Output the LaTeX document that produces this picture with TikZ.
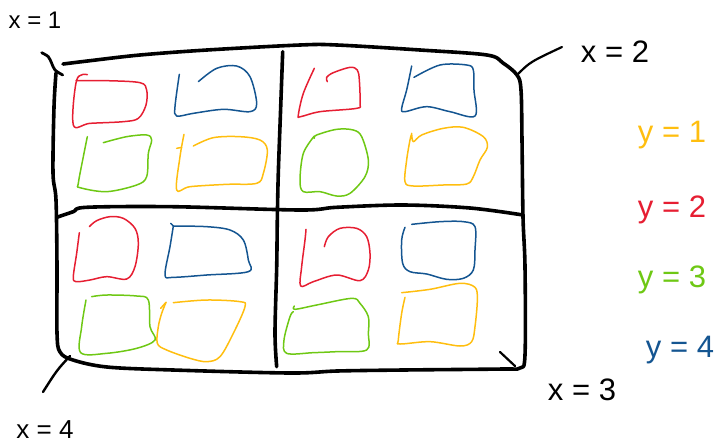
\documentclass[tikz,border=0pt]{standalone}
\usepackage{fontspec}
\setmainfont{Liberation Sans}
\definecolor{pred}{RGB}{230,30,50}
\definecolor{pblue}{RGB}{20,85,145}
\definecolor{pgreen}{RGB}{110,200,20}
\definecolor{pyellow}{RGB}{255,190,15}
\begin{document}
\begin{tikzpicture}[x=1pt,y=-1pt,
  frame/.style={line width=3.6pt, line cap=round, line join=round},
  pen/.style={line width=1.5pt, line cap=round, line join=round},
  lbl/.style={font=\fontsize{31}{33}\selectfont, inner sep=0pt},
  sk/.style={smooth, tension=0.55}]
\useasboundingbox (0,0) rectangle (720,445);
% outer frame
\draw[frame] plot[sk] coordinates {(63,64) (90,60.7) (140,55) (207,50) (300,45) (337,45) (420,50) (487,55) (503,63) (517,75) (521,90) (522,140) (523,217) (525,267) (525,355) (520,368) (503,369) (403,370) (337,371) (290,373) (173,370) (107,367) (73,360) (60,352) (57,333) (57,267) (56,200) (53,173) (54,107) (56,73)};
% dividers
\draw[frame] plot[sk] coordinates {(282.7,51.7) (280.7,106.7) (278.3,173.3) (277.3,220) (276.7,266.7) (275,333) (276.7,366.7)};
\draw[frame] plot[sk] coordinates {(56.7,217.3) (73.3,211.7) (86.7,207.3) (173,206.7) (300,210) (336.7,207.3) (403,205) (470,208) (523,215)};
% labels
\node[lbl, font=\fontsize{24}{26}\selectfont] (x1) at (35,20) {x = 1};
\node[lbl] (x2) at (615,52) {x = 2};
\node[lbl] (x3) at (582,390) {x = 3};
\node[lbl, font=\fontsize{26}{28}\selectfont] (x4) at (45,430) {x = 4};
\node[lbl, text=pyellow] (y1) at (672,135) {y = 1};
\node[lbl, text=pred] (y2) at (672,210) {y = 2};
\node[lbl, text=pgreen] (y3) at (672,280) {y = 3};
\node[lbl, text=pblue] (y4) at (680,350) {y = 4};
% connectors
\coordinate (c1a) at (41.7,52.7); \coordinate (c1b) at (62.7,75);
\draw[line width=2.8pt, line cap=round] plot[sk] coordinates {(c1a) (48.3,56.7) (51.7,63.3) (55,70) (c1b)};
\coordinate (c2a) at (517,75); \coordinate (c2b) at (562,47);
\draw[line width=2.2pt, line cap=round] (c2a) .. controls (530,62) .. (c2b);
\coordinate (c3a) at (500,352); \coordinate (c3b) at (515,366);
\draw[line width=2.2pt, line cap=round] (c3a) -- (c3b);
\coordinate (c4a) at (70,356); \coordinate (c4b) at (43,392);
\draw[line width=2.4pt, line cap=round] (c4a) .. controls (57,370) .. (c4b);
% quadrant 1
\begin{scope}[shift={(40,40)}, scale=1/3]
\draw[pen, pred] plot[sk] coordinates {(142,104) (110,120) (100,255) (150,250) (250,245) (295,235) (318,195) (320,150) (300,128) (200,122) (108,122)};
\draw[pen, pblue] plot[sk] coordinates {(418,103) (405,200) (410,228) (460,220) (550,208) (630,215) (650,190) (630,110) (590,78) (530,85) (475,125)};
\draw[pen, pgreen] plot[sk] coordinates {(142,290) (130,350) (115,430) (120,443) (200,455) (290,435) (320,410) (325,340) (335,300) (320,285) (260,290) (190,308)};
\draw[pen, pyellow] plot[sk] coordinates {(432,283) (420,350) (410,450) (450,440) (560,433) (650,430) (670,400) (682,330) (660,300) (600,290) (520,293) (460,318)};
\draw[pen, pyellow] (410,325) -- (425,322);
\end{scope}
% quadrant 2
\begin{scope}[shift={(270,40)}, scale=1/3]
\draw[pen, pred] plot[sk] coordinates {(133,85) (100,160) (85,225) (92,230) (150,215) (260,205) (270,190) (268,120) (262,90) (240,82) (190,98) (170,112) (172,125)};
\draw[pen, pblue] plot[sk] coordinates {(425,78) (410,150) (395,205) (405,215) (470,200) (540,215) (615,228) (612,150) (610,90) (590,75) (510,75) (432,112)};
\draw[pen, pgreen] plot[sk] coordinates {(133,288) (100,340) (90,420) (100,455) (150,455) (200,468) (240,460) (285,410) (295,360) (275,290) (250,270) (200,268) (140,285) (133,295)};
\draw[pen, pyellow] plot[sk] coordinates {(425,280) (430,305) (455,285) (520,265) (580,262) (640,290) (652,322) (630,360) (610,410) (590,432) (520,435) (430,438) (405,425) (410,360) (420,300) (425,282)};
\end{scope}
% quadrant 3
\begin{scope}[shift={(40,200)}, scale=1/3]
\draw[pen, pred] plot[sk] coordinates {(118,98) (110,160) (100,230) (108,245) (150,240) (200,230) (260,237) (285,200) (295,130) (285,85) (250,55) (210,50) (170,62) (148,80)};
\draw[pen, pblue] plot[sk] coordinates {(400,78) (390,140) (375,225) (400,232) (500,225) (625,215) (625,180) (610,120) (570,90) (500,80) (400,78)};
\draw[pen, pblue] (392,70) -- (400,78);
\draw[pen, pgreen] plot[sk] coordinates {(138,300) (125,380) (122,458) (200,460) (290,445) (345,420) (330,380) (325,300) (290,288) (200,285) (155,290)};
\draw[pen, pyellow] (362,325) -- (378,307);
\draw[pen, pyellow] plot[sk] coordinates {(378,307) (365,340) (355,380) (352,430) (380,450) (450,475) (500,485) (540,470) (580,400) (615,320) (600,305) (500,300) (400,308)};
\end{scope}
% quadrant 4
\begin{scope}[shift={(270,200)}, scale=1/3]
\draw[pen, pred] plot[sk] coordinates {(108,88) (105,120) (95,200) (92,258) (130,245) (200,225) (270,242) (295,210) (300,160) (290,110) (260,85) (210,85) (175,110) (163,140)};
\draw[pen, pblue] plot[sk] coordinates {(425,73) (510,65) (580,65) (615,80) (615,150) (610,210) (580,235) (530,238) (470,222) (420,215) (398,190) (395,120) (405,82)};
\draw[pen, pgreen] plot[sk] coordinates {(73,318) (75,328) (140,315) (245,295) (270,310) (295,350) (295,400) (290,450) (200,455) (130,458) (50,460) (42,420) (60,350) (70,335)};
\draw[pen, pyellow] plot[sk] coordinates {(395,278) (480,268) (570,250) (615,262) (622,300) (615,380) (605,425) (570,438) (480,425) (390,432) (385,420) (395,340) (405,292)};
\end{scope}
\end{tikzpicture}
\end{document}
